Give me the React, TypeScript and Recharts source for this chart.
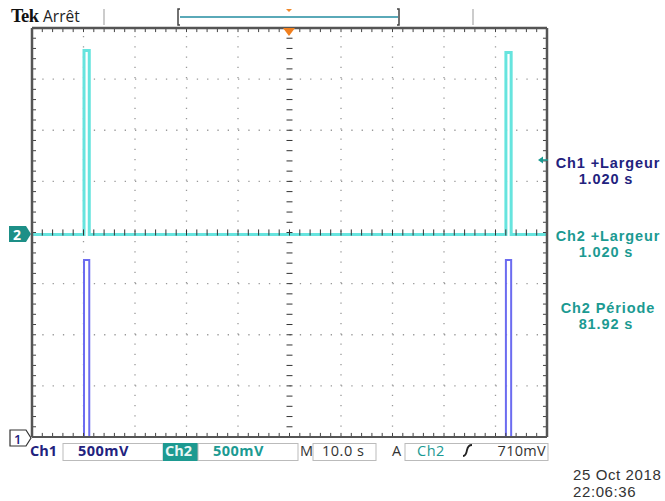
import React from "react";
import { LineChart, Line, XAxis, YAxis, ReferenceLine } from "recharts";

// ---- Data (seconds, volts) ----
const timeS = [0, 10.1, 10.1, 11.12, 11.12, 92.02, 92.02, 93.04, 93.04, 100];
const ch1Volts = [0, 0, 1.73, 1.73, 0, 0, 1.73, 1.73, 0, 0];
const ch2Volts = [-0.02, -0.02, 1.78, 1.78, -0.02, -0.02, 1.76, 1.76, -0.02, -0.02];

const voltsPerDiv = 0.5;
const ch1OffsetDiv = -4;
const ch2OffsetDiv = 0;

const gridX = [10, 20, 30, 40, 60, 70, 80, 90];
const gridY = [-3, -2, -1, 1, 2, 3];
const minorX = Array.from({ length: 51 }, (_, i) => i * 2);
const minorY = Array.from({ length: 41 }, (_, i) => -4 + i * 0.2);

const measureLabels = [
  { title: "Ch1 +Largeur", value: "1.020 s", color: "#22227e" },
  { title: "Ch2 +Largeur", value: "1.020 s", color: "#1b9a92" },
  { title: "Ch2 Période", value: "81.92 s", color: "#1b9a92" },
];

const data = timeS.map((t, i) => ({
  t,
  ch1: ch1Volts[i] / voltsPerDiv + ch1OffsetDiv,
  ch2: ch2Volts[i] / voltsPerDiv + ch2OffsetDiv,
}));

const W = 665;
const H = 501;
const TEAL = "#1b9a92";
const NAVY = "#22227e";
const FONT = "'Open Sans', 'DejaVu Sans', sans-serif";
const TIGHT = "'Liberation Sans', Arial, sans-serif";

export default function App() {
  return (
    <div style={{ position: "absolute", left: 0, top: 0, width: W, height: H, background: "#fff" }}>
      <LineChart
        width={W}
        height={H}
        data={data}
        margin={{ top: 28, right: 118, bottom: 64, left: 32 }}
      >
        <XAxis type="number" dataKey="t" domain={[0, 100]} hide />
        <YAxis type="number" domain={[-4, 4]} hide />
        {gridX.map((x) => (
          <ReferenceLine key={"gx" + x} x={x} stroke="#999" strokeWidth={1.3} strokeDasharray="1.3 8.95" />
        ))}
        {gridY.map((y) => (
          <ReferenceLine key={"gy" + y} y={y} stroke="#999" strokeWidth={1.3} strokeDasharray="1.3 9.0" />
        ))}
        <Line
          type="linear"
          dataKey="ch2"
          stroke="#66e4de"
          strokeWidth={3}
          dot={false}
          isAnimationActive={false}
        />
        <Line
          type="linear"
          dataKey="ch1"
          stroke="#6c6cf0"
          strokeWidth={2}
          dot={false}
          isAnimationActive={false}
        />
        {minorX.map((x) => (
          <ReferenceLine key={"cx" + x} segment={[{ x, y: -0.06 }, { x, y: 0.06 }]} stroke="#333" strokeWidth={1} />
        ))}
        {minorY.map((y) => (
          <ReferenceLine key={"cy" + y} segment={[{ x: 49.42, y }, { x: 50.58, y }]} stroke="#333" strokeWidth={1} />
        ))}
        {minorX.map((x) => (
          <ReferenceLine key={"tx" + x} segment={[{ x, y: 4 }, { x, y: 3.92 }]} stroke="#444" strokeWidth={1} />
        ))}
        {minorX.map((x) => (
          <ReferenceLine key={"bx" + x} segment={[{ x, y: -4 }, { x, y: -3.92 }]} stroke="#444" strokeWidth={1} />
        ))}
        {minorY.map((y) => (
          <ReferenceLine key={"ly" + y} segment={[{ x: 0, y }, { x: 0.78, y }]} stroke="#444" strokeWidth={1} />
        ))}
        {minorY.map((y) => (
          <ReferenceLine key={"ry" + y} segment={[{ x: 100, y }, { x: 99.22, y }]} stroke="#444" strokeWidth={1} />
        ))}
        <ReferenceLine x={0} stroke="#555" strokeWidth={2.5} />
        <ReferenceLine x={100} stroke="#555" strokeWidth={2.5} />
        <ReferenceLine y={4} stroke="#555" strokeWidth={2.5} />
        <ReferenceLine y={-4} stroke="#555" strokeWidth={2} />
      </LineChart>

      <svg
        width={W}
        height={H}
        style={{ position: "absolute", left: 0, top: 0, pointerEvents: "none" }}
        fontFamily={FONT}
      >
        {/* header */}
        <text x={11} y={22} fontFamily="'Liberation Serif', serif" fontWeight={700} fontSize={18.5} fill="#111" letterSpacing={-0.6}>
          Tek
        </text>
        <text x={43} y={22} fontSize={15.5} fill="#222">
          Arrêt
        </text>
        <line x1={104} y1={9} x2={104} y2={25} stroke="#999" strokeWidth={1} />
        <line x1={473} y1={9} x2={473} y2={25} stroke="#999" strokeWidth={1} />
        <path d="M180 9 H178 V25 H180" fill="none" stroke="#444" strokeWidth={1.5} />
        <path d="M397 9 H399 V25 H397" fill="none" stroke="#444" strokeWidth={1.5} />
        <line x1={180} y1={17} x2={398} y2={17} stroke="#5aa9b8" strokeWidth={2} />
        <path d="M286 9 L292 9 L289 12 Z" fill="#f08a2c" />
        {/* trigger position marker */}
        <path d="M283 28 L295 28 L289 36 Z" fill="#f07f1e" />

        {/* channel markers */}
        <path d="M9 226 H26 L31 234 L26 242 H9 Z" fill="#1d8f87" />
        <text x={13} y={239.5} fontSize={14} fontWeight={700} fill="#fff">2</text>
        <path d="M10 430 H26 L31 438 L26 446 H10 Z" fill="#fff" stroke="#333" strokeWidth={1.2} />
        <text x={14} y={443.5} fontSize={13} fontWeight={600} fill="#22227e">1</text>

        {/* measurement arrow */}
        <path d="M538 160 L543 156.5 L543 163.5 Z" fill={TEAL} />
        <line x1={542} y1={160} x2={548} y2={160} stroke={TEAL} strokeWidth={1.5} />

        {/* measurements */}
        {measureLabels.map((m, i) => {
          const base = [167.5, 240.5, 312.5][i];
          return (
            <g key={m.title}>
              <text x={608} y={base} fontFamily={TIGHT} fontSize={14.5} fontWeight={700} fill={m.color} textAnchor="middle" letterSpacing={0.9}>
                {m.title}
              </text>
              <text x={606} y={base + 16.8} fontFamily={TIGHT} fontSize={14.5} fontWeight={700} fill={m.color} textAnchor="middle" letterSpacing={0.9}>
                {m.value}
              </text>
            </g>
          );
        })}

        {/* bottom status bar */}
        <text x={30} y={456} fontSize={14.5} fontWeight={700} fill={NAVY}>Ch1</text>
        <rect x={63} y={443.5} width={100} height={17} fill="#fff" stroke="#bbb" strokeWidth={1} />
        <text x={78} y={456} fontSize={14.5} fontWeight={700} fill={NAVY} letterSpacing={0.5}>500mV</text>
        <rect x={163} y={443} width={35} height={18} fill="#1d9a91" />
        <text x={165} y={456} fontSize={14.5} fontWeight={700} fill="#e8f7f5">Ch2</text>
        <rect x={198} y={443.5} width={100} height={17} fill="#fff" stroke="#bbb" strokeWidth={1} />
        <text x={213} y={456} fontSize={14.5} fontWeight={700} fill={TEAL} letterSpacing={0.5}>500mV</text>
        <text x={300} y={456} fontSize={14.5} fill="#333">M</text>
        <rect x={313} y={443.5} width={63} height={17} fill="#fff" stroke="#bbb" strokeWidth={1} />
        <text x={322} y={456} fontSize={14.5} fill="#333" letterSpacing={0.5}>10.0 s</text>
        <text x={392} y={456} fontSize={14.5} fill="#333">A</text>
        <rect x={405} y={443.5} width={143} height={17} fill="#fff" stroke="#bbb" strokeWidth={1} />
        <text x={417} y={456} fontSize={14.5} fill={TEAL} letterSpacing={0.5}>Ch2</text>
        <path d="M463 456 Q466 456 467 450 Q468 445 472 445" fill="none" stroke="#222" strokeWidth={1.8} />
        <text x={546} y={456} fontSize={14.5} fill="#333" textAnchor="end" letterSpacing={0.3}>710mV</text>

        {/* date / time */}
        <text x={573} y={479.5} fontFamily={TIGHT} fontSize={15} fill="#333" letterSpacing={0.6}>25 Oct  2018</text>
        <text x={573} y={497.3} fontFamily={TIGHT} fontSize={15} fill="#333" letterSpacing={0.6}>22:06:36</text>
      </svg>
    </div>
  );
}
